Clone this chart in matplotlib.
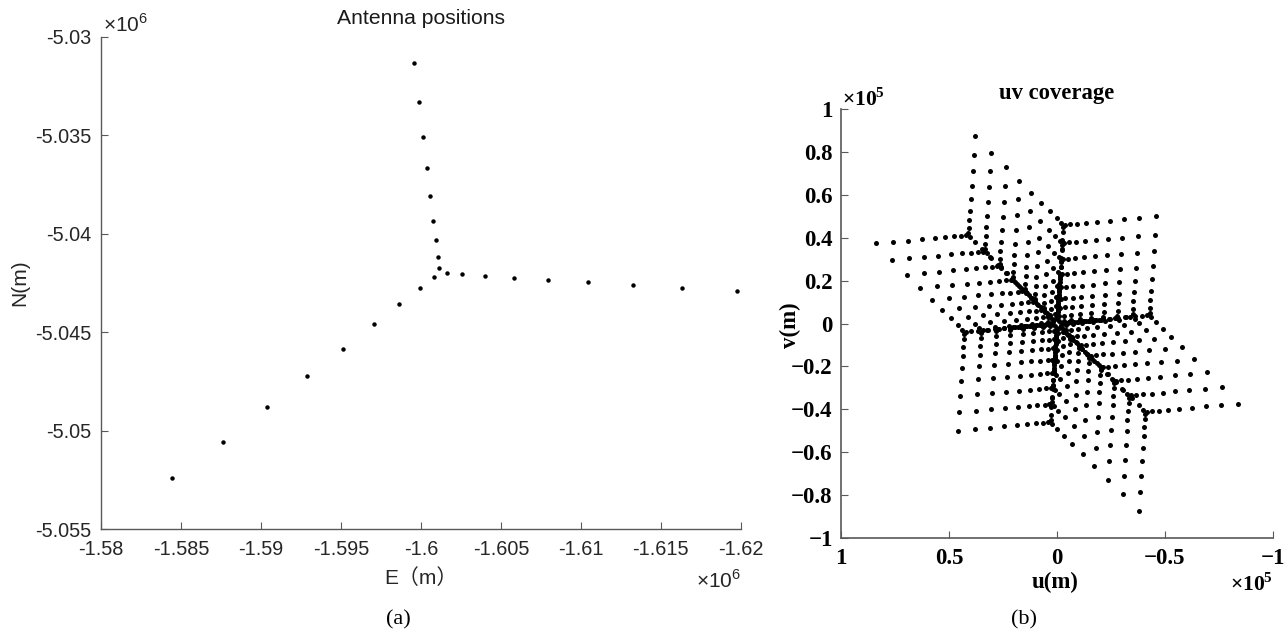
import matplotlib
matplotlib.use("Agg")
import matplotlib.pyplot as plt
import numpy as np

# antenna positions (m), one list per arm, ordered from the centre outwards
north_e = [-1601154, -1601072, -1600928, -1600779, -1600591, -1600384, -1600134, -1599866, -1599553]
north_n = [-5041724, -5041165, -5040302, -5039338, -5038100, -5036679, -5035075, -5033299, -5031350]
east_e = [-1601616, -1602592, -1604011, -1605806, -1607969, -1610452, -1613266, -1616348, -1619750]
east_n = [-5041977, -5042043, -5042130, -5042231, -5042333, -5042465, -5042602, -5042754, -5042921]
sw_e = [-1600803, -1599928, -1598653, -1597052, -1595132, -1592900, -1590380, -1587610, -1584458]
sw_n = [-5042195, -5042754, -5043566, -5044581, -5045834, -5047235, -5048808, -5050585, -5052397]
array_center = (-1601191, -5041957)

# projected (u, v) of the outermost antenna of each arm, in m
uv_tip_north = (-3000, 46000)
uv_tip_east = (42900, -3900)
uv_tip_sw = (-41000, -41200)

e_ticks = [-1.58, -1.585, -1.59, -1.595, -1.6, -1.605, -1.61, -1.615, -1.62]
n_ticks = [-5.055, -5.05, -5.045, -5.04, -5.035, -5.03]
u_ticks = [1, 0.5, 0, -0.5, -1]
v_ticks = [-1, -0.8, -0.6, -0.4, -0.2, 0, 0.2, 0.4, 0.6, 0.8, 1]

sans = ['Liberation Sans', 'Noto Sans CJK SC', 'DejaVu Sans']
serif = ['Liberation Serif', 'DejaVu Serif']


def arm_uv(e, n, tip):
    e = np.asarray(e, float)
    n = np.asarray(n, float)
    d = np.hypot(e - array_center[0], n - array_center[1])
    frac = d / d.max()
    return np.outer(frac, tip)


uv_pos = np.vstack([arm_uv(north_e, north_n, uv_tip_north),
                    arm_uv(east_e, east_n, uv_tip_east),
                    arm_uv(sw_e, sw_n, uv_tip_sw)])
diff = uv_pos[:, None, :] - uv_pos[None, :, :]
mask = ~np.eye(len(uv_pos), dtype=bool)
u = diff[..., 0][mask]
v = diff[..., 1][mask]

fig = plt.figure(figsize=(12.86, 6.35), dpi=100)

# --- antenna positions ---
ax1 = fig.add_axes([101 / 1286, 1 - 529.3 / 635, 639.7 / 1286, 492.6 / 635])
ax1.plot(north_e + east_e + sw_e, north_n + east_n + sw_n, 'o', color='k', ms=3.2, mew=0)
ax1.set_xlim(-1.58e6, -1.62e6)
ax1.set_ylim(-5.055e6, -5.03e6)
ax1.set_xticks([t * 1e6 for t in e_ticks])
ax1.set_xticklabels(['%g' % t for t in e_ticks])
ax1.set_yticks([t * 1e6 for t in n_ticks])
ax1.set_yticklabels(['%g' % t for t in n_ticks])
for lab in ax1.get_xticklabels() + ax1.get_yticklabels():
    lab.set_family(sans)
    lab.set_fontsize(14.3)
    lab.set_color('0.15')
ax1.tick_params(axis='x', direction='in', length=5, width=0.8, color='0.35', pad=8)
ax1.tick_params(axis='y', direction='in', length=5, width=0.8, color='0.35', pad=7)
for s in ['top', 'right']:
    ax1.spines[s].set_visible(False)
for s in ['left', 'bottom']:
    ax1.spines[s].set_color('0.35')
    ax1.spines[s].set_linewidth(1.0)
ax1.set_xlabel('E（m）', family=sans, fontsize=15, color='0.15', va='center')
ax1.xaxis.set_label_coords(0.5, -0.099)
ax1.set_ylabel('N(m)', family=sans, fontsize=15, color='0.15', va='center')
ax1.yaxis.set_label_coords(-0.127, 0.5)
ax1.set_title('Antenna positions', family=sans, fontsize=15.2, color='0.1', y=1.037, pad=0, va='center')
ax1.text(0.003, 1.0095, '×10$^{\\mathregular{6}}$', transform=ax1.transAxes,
         family=sans, fontsize=15, color='0.15', ha='left', va='baseline')
ax1.text(1.0, -0.119, '×10$^{\\mathregular{6}}$', transform=ax1.transAxes,
         family=sans, fontsize=15, color='0.15', ha='right', va='baseline')

# --- uv coverage ---
ax2 = fig.add_axes([841 / 1286, 1 - 538 / 635, 431.7 / 1286, 429 / 635])
ax2.plot(u, v, 'o', color='k', ms=3.6, mew=0)
ax2.set_xlim(1e5, -1e5)
ax2.set_ylim(-1e5, 1e5)
ax2.set_xticks([t * 1e5 for t in u_ticks])
ax2.set_xticklabels([('%g' % t).replace('-', '\u2212') for t in u_ticks])
ax2.set_yticks([t * 1e5 for t in v_ticks])
ax2.set_yticklabels([('%g' % t).replace('-', '\u2212') for t in v_ticks])
for lab in ax2.get_xticklabels() + ax2.get_yticklabels():
    lab.set_family(serif)
    lab.set_fontsize(16.5)
    lab.set_fontweight('bold')
ax2.tick_params(axis='x', direction='in', length=5, width=0.8, color='0.35', pad=7)
ax2.tick_params(axis='y', direction='in', length=5, width=0.8, color='0.35', pad=6)
for s in ['top', 'right']:
    ax2.spines[s].set_visible(False)
for s in ['left', 'bottom']:
    ax2.spines[s].set_color('0.35')
    ax2.spines[s].set_linewidth(1.2)
ax2.set_xlabel('u(m)', family=serif, fontsize=16.5, fontweight='bold', va='center')
ax2.xaxis.set_label_coords(0.496, -0.103)
ax2.set_ylabel('v(m)', family=serif, fontsize=16.5, fontweight='bold', va='center')
ax2.yaxis.set_label_coords(-0.116, 0.4965)
ax2.set_title('uv coverage', family=serif, fontsize=16.3, fontweight='bold', y=1.037, pad=0, va='center')
ax2.text(0.002, 1.007, '×10$^{\\mathregular{5}}$', transform=ax2.transAxes,
         family=serif, fontsize=15.5, fontweight='bold', ha='left', va='baseline')
ax2.text(1.0, -0.123, '×10$^{\\mathregular{5}}$', transform=ax2.transAxes,
         family=serif, fontsize=15.5, fontweight='bold', ha='right', va='baseline')

fig.text(398 / 1286, 1 - 620 / 635, '(a)', family=serif, fontsize=16, ha='center', va='center')
fig.text(1024 / 1286, 1 - 620 / 635, '(b)', family=serif, fontsize=16, ha='center', va='center')

fig.savefig('out.png', dpi=100)
